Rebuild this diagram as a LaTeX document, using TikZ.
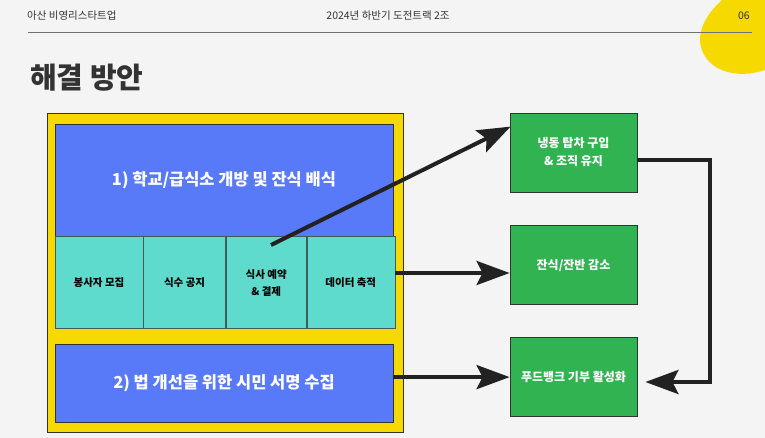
\documentclass[tikz,border=0pt]{standalone}
\usepackage{fontspec}
\setmainfont{Noto Sans CJK KR}
\usepackage{tikz}
\usetikzlibrary{arrows.meta, positioning, calc}
\definecolor{slidebg}{HTML}{F4F4F4}
\definecolor{sunyellow}{HTML}{F5D900}
\definecolor{planblue}{HTML}{5879F8}
\definecolor{stepteal}{HTML}{5EDBCC}
\definecolor{goalgreen}{HTML}{32B351}
\definecolor{slideink}{HTML}{333333}
\definecolor{arrowink}{HTML}{222222}

\begin{document}
\begin{tikzpicture}[x=1pt, y=-1pt,
        frame/.style={draw=slideink, line width=0.8pt, fill=sunyellow, inner sep=0pt, minimum width=356pt, minimum height=319pt},
        bluebox/.style={draw=slideink, line width=0.6pt, fill=planblue, text=white, font=\fontsize{16.5}{20}\selectfont\bfseries, inner sep=0pt, minimum width=338pt},
        cell/.style={draw=slideink!75!stepteal, line width=0.6pt, fill=stepteal, text=black, font=\fontsize{10.5}{17}\selectfont\bfseries, align=center, inner sep=0pt, minimum height=92pt},
        goal/.style={draw=slideink, line width=0.8pt, fill=goalgreen, text=white, font=\fontsize{12}{18}\selectfont\bfseries, align=center, inner sep=0pt, minimum width=127pt, minimum height=79pt},
        header/.style={text=slideink, font=\fontsize{10.5}{12}\selectfont, inner sep=0pt},
        arrow/.style={-{Stealth[length=33pt, width=24pt, inset=6pt]}, line width=4pt, arrowink}
    ]
        \useasboundingbox (0,0) rectangle (765,438);
        \fill[slidebg] (0,0) rectangle (765,438);
        \fill[sunyellow] (722,0) .. controls (704,16) and (697,34) .. (701,47) .. controls (707,70) and (735,80) .. (765,70) -- (765,0) -- cycle;

        % header
        \node (org) [header, anchor=west] at (27,16) {아산 비영리스타트업};
        \node (track) [header] at (388,16) {2024년 하반기 도전트랙 2조};
        \node (page) [header, anchor=east] at (750,16) {06};
        \draw[slideink!70, line width=1pt] (28,33) -- (752,33);
        \node (title) [anchor=west, inner sep=0pt, text=slideink, font=\fontsize{29}{32}\selectfont\bfseries] at (30,78) {해결 방안};

        % left block
        \node (outer) [frame] at (225,272.5) {};
        \node (blue1) [bluebox, minimum height=112pt] at (224,180) {1) 학교/급식소 개방 및 잔식 배식};
        \node (c1) [cell, minimum width=88pt, anchor=north west] at (blue1.south west) {봉사자 모집};
        \node (c2) [cell, minimum width=82pt, right=0pt of c1] {식수 공지};
        \node (c3) [cell, minimum width=80pt, right=0pt of c2] {식사 예약\\\& 결제};
        \node (c4) [cell, minimum width=88pt, right=0pt of c3] {데이터 축적};
        \node (blue2) [bluebox, minimum height=78pt] at (224,383) {2) 법 개선을 위한 시민 서명 수집};

        % outcomes
        \node (g1) [goal] at (573.5,152.5) {냉동 탑차 구입\\\& 조직 유지};
        \node (g2) [goal, below=33pt of g1] {잔식/잔반 감소};
        \node (g3) [goal, below=32pt of g2] {푸드뱅크 기부 활성화};

        \coordinate (tap) at (271,245);
        \coordinate (loopturn) at (710,382);
        \draw [arrow] (tap) -- ($(g1.north west)+(1,14)$);
        \draw [arrow] (c4.east |- 0,273) -- (g2.west |- 0,273);
        \draw [arrow] (blue2.east |- g3.west) -- (g3.west);
        \draw [arrow, line join=miter] (g1.east |- 0,160) -| (loopturn) -- ($(g3.east |- loopturn)+(8,0)$);
    \end{tikzpicture}
\end{document}
